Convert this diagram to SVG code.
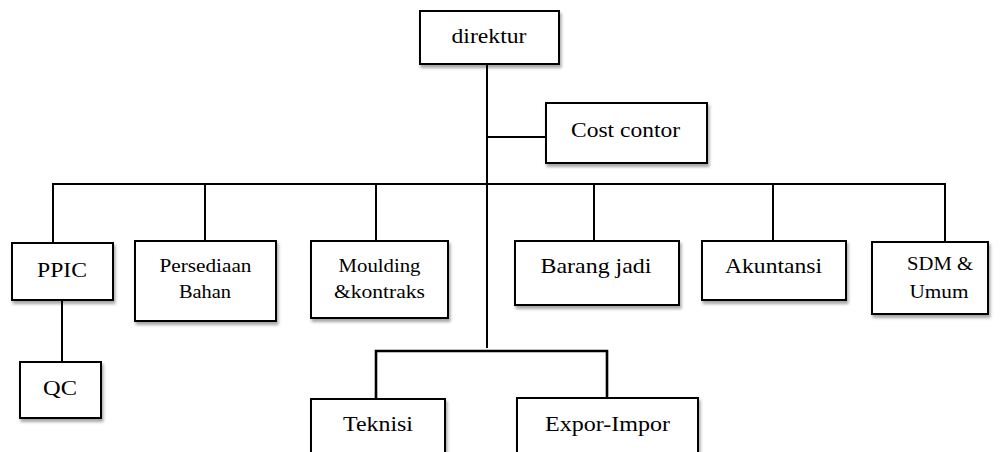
<svg xmlns="http://www.w3.org/2000/svg" width="1000" height="452" viewBox="0 0 1000 452">
<defs>
<filter id="sh" x="-10%" y="-10%" width="130%" height="140%">
<feDropShadow dx="1.5" dy="3" stdDeviation="1.5" flood-color="#000" flood-opacity="0.35"/>
</filter>
<style>
.box{fill:#fff;stroke:#000;stroke-width:2;filter:url(#sh)}
.t{font-size:21px;fill:#000;text-anchor:middle}
.s{font-size:19px}
.c{stroke:#000;stroke-width:2;fill:none}
.k{stroke-width:2.6}
</style>
</defs>
<rect width="1000" height="452" fill="#fff"/>
<g id="connectors">
<line class="c" x1="487" y1="62" x2="487" y2="348"/>
<line class="c" x1="487" y1="137" x2="546" y2="137"/>
<polyline class="c" points="53,243 53,184 945,184 945,242"/>
<line class="c" x1="205" y1="184" x2="205" y2="241"/>
<line class="c" x1="376" y1="184" x2="376" y2="241"/>
<line class="c" x1="594" y1="184" x2="594" y2="241"/>
<line class="c" x1="773" y1="184" x2="773" y2="241"/>
<line class="c" x1="62" y1="300" x2="62" y2="362"/>
<polyline class="c k" points="376,399 376,351 607,351 607,398"/>
</g>
<g font-family="Liberation Serif, Times New Roman, DejaVu Serif, serif">
<g id="direktur"><rect class="box" x="420" y="11" width="139" height="53"/><text class="t" x="489" y="43" textLength="75" lengthAdjust="spacingAndGlyphs">direktur</text></g>
<g id="cost-contor"><rect class="box" x="546" y="103" width="161" height="60"/><text class="t" x="625.5" y="137" textLength="109" lengthAdjust="spacingAndGlyphs">Cost contor</text></g>
<g id="ppic"><rect class="box" x="12" y="243" width="101" height="57"/><text class="t" x="62" y="277" textLength="50" lengthAdjust="spacingAndGlyphs">PPIC</text></g>
<g id="persediaan"><rect class="box" x="135" y="241" width="141" height="80"/><text class="t s" x="205.5" y="272" textLength="92" lengthAdjust="spacingAndGlyphs">Persediaan</text><text class="t s" x="205" y="298" textLength="52" lengthAdjust="spacingAndGlyphs">Bahan</text></g>
<g id="moulding"><rect class="box" x="311" y="241" width="137" height="77"/><text class="t s" x="379.5" y="272" textLength="82" lengthAdjust="spacingAndGlyphs">Moulding</text><text class="t s" x="379.5" y="298" textLength="91" lengthAdjust="spacingAndGlyphs">&amp;kontraks</text></g>
<g id="barang-jadi"><rect class="box" x="515" y="241" width="164" height="64"/><text class="t" x="596" y="273" textLength="111" lengthAdjust="spacingAndGlyphs">Barang jadi</text></g>
<g id="akuntansi"><rect class="box" x="702" y="241" width="144" height="59"/><text class="t" x="773.5" y="273" textLength="97" lengthAdjust="spacingAndGlyphs">Akuntansi</text></g>
<g id="sdm"><rect class="box" x="872" y="242" width="116" height="72"/><text class="t s" x="940" y="270" textLength="66" lengthAdjust="spacingAndGlyphs">SDM &amp;</text><text class="t s" x="939" y="298" textLength="59" lengthAdjust="spacingAndGlyphs">Umum</text></g>
<g id="qc"><rect class="box" x="20" y="362" width="81" height="56"/><text class="t" x="60" y="395" textLength="34" lengthAdjust="spacingAndGlyphs">QC</text></g>
<g id="teknisi"><rect class="box" x="311" y="399" width="134" height="70"/><text class="t" x="378" y="431" textLength="70" lengthAdjust="spacingAndGlyphs">Teknisi</text></g>
<g id="expor-impor"><rect class="box" x="517" y="398" width="181" height="70"/><text class="t" x="607.5" y="431" textLength="125" lengthAdjust="spacingAndGlyphs">Expor-Impor</text></g>
</g>
</svg>
